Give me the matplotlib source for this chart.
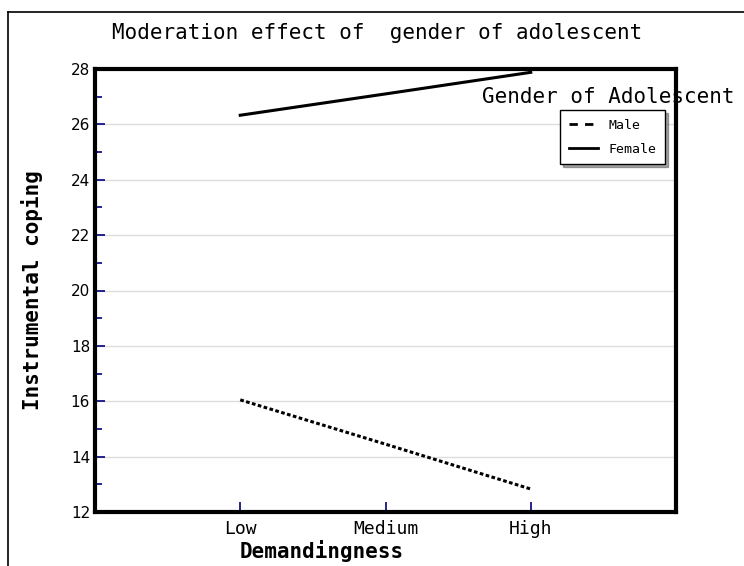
import matplotlib.pyplot as plt
from matplotlib.lines import Line2D
from matplotlib.ticker import MultipleLocator

# data
levels = ["Low", "Medium", "High"]
xpos = [1, 2, 3]
male = [16.05, 14.45, 12.83]
female = [26.33, 27.1, 27.88]

mono = "DejaVu Sans Mono"

fig = plt.figure(figsize=(7.44, 5.66), dpi=100)
ax = fig.add_axes([95 / 744, 1 - 512 / 566, 581 / 744, 443 / 566])

ax.plot(xpos, male, color="black", lw=2.2, linestyle=(0, (1.2, 0.8)))
ax.plot(xpos, female, color="black", lw=2.2)

ax.set_xlim(0, 4)
ax.set_ylim(12, 28)
ax.set_xticks(xpos)
ax.set_xticklabels(levels, fontfamily=mono, fontsize=13)
ax.yaxis.set_major_locator(MultipleLocator(2))
ax.yaxis.set_minor_locator(MultipleLocator(1))
ax.tick_params(axis="both", which="both", direction="in", color="navy", width=1.2)
ax.tick_params(axis="y", which="major", length=7, labelsize=11)
ax.tick_params(axis="y", which="minor", length=5)
ax.tick_params(axis="x", which="major", length=7, pad=6)
ax.yaxis.grid(True, color="#dddddd", lw=1)
ax.set_axisbelow(True)
for s in ax.spines.values():
    s.set_linewidth(3)
    s.set_color("black")

ax.set_ylabel("Instrumental coping", fontfamily=mono, fontsize=15, fontweight="bold", labelpad=20)
# x label sits left of the axes centre in the original
fig.text(322 / 744, 1 - 551 / 566, "Demandingness", fontfamily=mono, fontsize=15,
         fontweight="bold", ha="center", va="center")

fig.text(377 / 744, 1 - 33 / 566, "Moderation effect of  gender of adolescent",
         fontfamily=mono, fontsize=15, ha="center", va="center")

# legend
handles = [Line2D([], [], color="black", lw=2, linestyle=(0, (3, 2.6))),
           Line2D([], [], color="black", lw=2)]
leg = ax.legend(handles, ["Male", "Female"], loc="upper left",
                bbox_to_anchor=((560 - 95) / 581, (512 - 110) / 443),
                prop={"family": mono, "size": 9.5}, frameon=True, fancybox=False,
                shadow=True, edgecolor="black", framealpha=1,
                handlelength=2.2, borderaxespad=0, borderpad=0.65, labelspacing=0.85)
leg.get_frame().set_linewidth(1)
fig.text(608 / 744, 1 - 97 / 566, "Gender of Adolescent", fontfamily=mono,
         fontsize=15, ha="center", va="center")

# outer frame
fig.add_artist(Line2D([8 / 744, 8 / 744], [0, 1 - 12 / 566], color="black", lw=1.2))
fig.add_artist(Line2D([8 / 744, 1], [1 - 12 / 566, 1 - 12 / 566], color="black", lw=1.2))

fig.savefig("out.png", dpi=100)
